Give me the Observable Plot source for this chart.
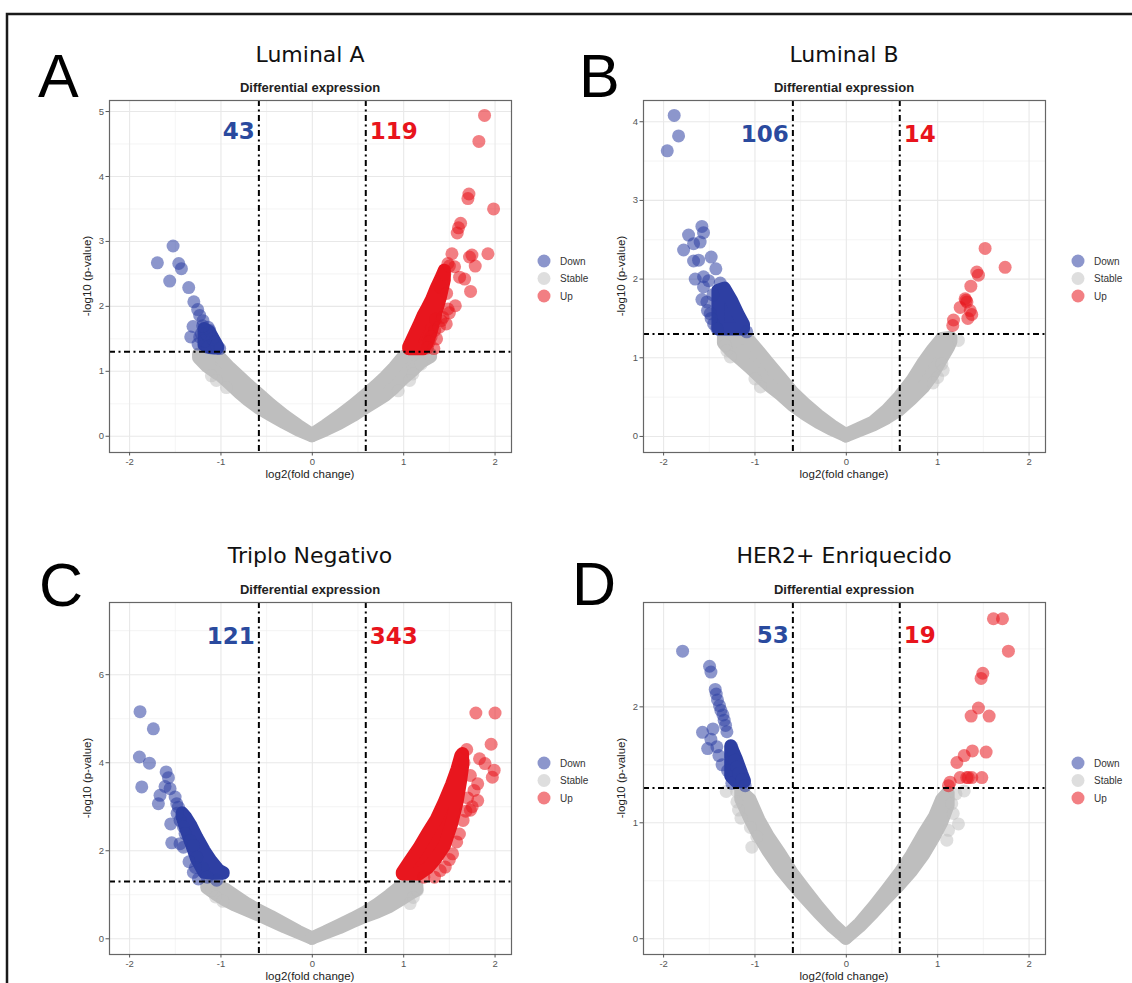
<!DOCTYPE html>
<html><head><meta charset="utf-8">
<script src="https://cdn.jsdelivr.net/npm/d3@7"></script>
<script src="https://cdn.jsdelivr.net/npm/@observablehq/plot@0.6"></script>
<style>
body{margin:0;background:#fff;}
#fig{position:relative;width:1132px;height:983px;overflow:hidden;background:#fff;}
#fig svg.pl{position:absolute;}
</style></head>
<body><div id="fig"></div>
<script>
// ---------- shared axis / threshold values ----------
const xMajor = [-2, -1, 0, 1, 2];
const xMinor = [-1.5, -0.5, 0.5, 1.5];
const fcCut = 0.585;      // log2(1.5)
const pCut = 1.301;       // -log10(0.05)
const legendLabels = ["Down", "Stable", "Up"];
const panelLetters = ["A", "B", "C", "D"];
const panelTitles = ["Luminal A", "Luminal B", "Triplo Negativo", "HER2+ Enriquecido"];
const downCounts = [43, 106, 121, 53];
const upCounts = [119, 14, 343, 19];
const countLabelY = [4.69, 3.84, 6.87, 2.61];
const yDomains = [[-0.25, 5.17], [-0.204, 4.27], [-0.357, 7.64], [-0.136, 2.9]];
const yMajors = [[0,1,2,3,4,5],[0,1,2,3,4],[0,2,4,6],[0,1,2]];
const yMinors = [[0.5,1.5,2.5,3.5,4.5],[0.5,1.5,2.5,3.5],[1,3,5,7],[0.5,1.5,2.5]];

// ---------- Panel A : Luminal A ----------
// dense stable band (dot-centre envelope): [log2FC, low, high]
const aStableLeft = [[-1.24,1.2,1.26],[-1.15,1.07,1.26],[-1.05,0.97,1.26],[-1.0,0.93,1.2],[-0.9,0.8,1.05],[-0.8,0.67,0.92],[-0.7,0.55,0.79],[-0.585,0.43,0.65],[-0.45,0.32,0.48],[-0.3,0.2,0.31],[-0.15,0.09,0.16],[0,0,0.02]];
const aStableRight = [[0,0,0.02],[0.15,0.09,0.16],[0.3,0.19,0.31],[0.45,0.31,0.47],[0.585,0.43,0.63],[0.7,0.53,0.77],[0.8,0.62,0.9],[0.9,0.74,1.05],[1.0,0.88,1.22],[1.1,1.0,1.26],[1.2,1.14,1.26],[1.3,1.22,1.26]];
const aStableOut = [[-1.105,0.93],[-1.05,0.86],[-0.94,0.75],[1.1,0.96],[1.19,1.11],[1.28,1.27],[1.065,0.86],[0.94,0.7]];
const aDownCore = [[-1.18,1.4,1.65],[-1.12,1.36,1.6],[-1.06,1.35,1.45],[-1.03,1.35,1.37]];
const aDown = [[-1.524,2.93],[-1.696,2.67],[-1.462,2.66],[-1.433,2.58],[-1.561,2.39],[-1.353,2.29],[-1.297,2.07],[-1.255,1.95],[-1.233,1.86],[-1.196,1.78],[-1.306,1.69],[-1.142,1.68],[-1.331,1.53],[-1.233,1.53],[-1.251,1.42],[-1.215,1.58],[-1.105,1.55],[-1.069,1.45],[-1.014,1.35],[-1.142,1.37],[-1.178,1.47],[-1.123,1.63],[-1.09,1.5],[-1.05,1.4],[-1.16,1.58],[-1.2,1.7]];
const aUpCore = [[1.06,1.34,1.37],[1.12,1.34,1.55],[1.17,1.34,1.7],[1.22,1.34,1.86],[1.26,1.42,1.96],[1.31,1.62,2.1],[1.36,1.9,2.27],[1.41,2.15,2.42],[1.45,2.4,2.55]];
const aUp = [[1.885,4.94],[1.823,4.54],[1.714,3.73],[1.703,3.66],[1.984,3.5],[1.623,3.28],[1.6,3.21],[1.586,3.13],[1.528,2.81],[1.747,2.79],[1.72,2.76],[1.922,2.81],[1.783,2.62],[1.484,2.66],[1.557,2.61],[1.612,2.45],[1.667,2.42],[1.732,2.23],[1.565,2.01],[1.484,1.96],[1.5,1.9],[1.41,1.78],[1.466,1.73],[1.34,1.63],[1.3,1.53],[1.45,2.5],[1.4,2.3],[1.35,1.8],[1.28,1.45],[1.33,1.35],[1.43,1.83],[1.39,1.68],[1.5,2.62],[1.47,2.2],[1.36,1.5],[1.26,1.36]];

// ---------- Panel B : Luminal B ----------
const bStableLeft = [[-1.34,1.18,1.26],[-1.25,1.07,1.26],[-1.15,0.97,1.26],[-1.06,0.88,1.22],[-0.95,0.76,1.07],[-0.85,0.65,0.93],[-0.72,0.53,0.75],[-0.585,0.39,0.56],[-0.45,0.28,0.41],[-0.3,0.17,0.26],[-0.15,0.08,0.13],[0,0,0.02]];
const bStableRight = [[0,0,0.02],[0.15,0.07,0.1],[0.3,0.14,0.18],[0.45,0.23,0.33],[0.585,0.33,0.5],[0.72,0.47,0.7],[0.85,0.62,0.94],[0.95,0.78,1.1],[1.05,0.98,1.24],[1.12,1.12,1.25],[1.15,1.2,1.25]];
const bStableOut = [[-1.307,1.09],[-1.27,1.01],[-1.0,0.73],[-0.94,0.63],[-1.325,1.16],[1.227,1.22],[1.045,0.92],[1.06,0.84],[1.0,0.75],[0.95,0.68]];
const bDownCore = [[-1.4,1.36,1.85],[-1.33,1.36,1.88],[-1.25,1.36,1.72],[-1.18,1.36,1.55],[-1.12,1.36,1.42]];
const bDown = [[-1.884,4.08],[-1.836,3.82],[-1.96,3.63],[-1.581,2.67],[-1.563,2.59],[-1.727,2.56],[-1.6,2.47],[-1.672,2.45],[-1.781,2.37],[-1.479,2.28],[-1.672,2.23],[-1.617,2.24],[-1.428,2.13],[-1.654,2.0],[-1.563,2.03],[-1.507,1.98],[-1.563,1.9],[-1.581,1.74],[-1.526,1.71],[-1.49,1.56],[-1.453,1.43],[-1.417,1.37],[-1.46,1.8],[-1.38,1.95],[-1.52,1.6],[-1.48,1.5],[-1.09,1.33]];
const bUpCore = [];
const bUp = [[1.519,2.39],[1.738,2.15],[1.428,2.09],[1.446,2.05],[1.363,1.91],[1.3,1.75],[1.32,1.71],[1.246,1.64],[1.356,1.6],[1.373,1.55],[1.33,1.5],[1.173,1.48],[1.165,1.41],[1.31,1.73]];

// ---------- Panel C : Triplo Negativo ----------
const cStableLeft = [[-1.15,1.15,1.2],[-1.05,1.0,1.2],[-0.95,0.87,1.12],[-0.85,0.76,0.98],[-0.72,0.65,0.8],[-0.585,0.53,0.64],[-0.45,0.4,0.5],[-0.3,0.26,0.33],[-0.15,0.13,0.16],[0,0,0.01]];
const cStableRight = [[0,0,0.01],[0.15,0.12,0.15],[0.3,0.24,0.3],[0.45,0.38,0.45],[0.585,0.5,0.6],[0.72,0.6,0.78],[0.85,0.72,0.98],[0.95,0.85,1.15],[1.05,0.98,1.2],[1.15,1.1,1.2]];
const cStableOut = [[-1.06,0.95],[-1.1,1.1],[-0.98,0.85],[1.105,0.94],[1.07,0.8],[1.15,1.1]];
const cDownCore = [[-1.42,2.75,2.85],[-1.38,2.5,2.75],[-1.32,2.15,2.55],[-1.26,1.8,2.3],[-1.18,1.5,2.0],[-1.1,1.48,1.75],[-1.02,1.48,1.55],[-0.97,1.48,1.49]];
const cDown = [[-1.886,5.16],[-1.74,4.77],[-1.893,4.13],[-1.783,3.99],[-1.867,3.45],[-1.6,3.79],[-1.575,3.66],[-1.612,3.46],[-1.557,3.41],[-1.667,3.26],[-1.685,3.07],[-1.502,3.22],[-1.484,3.07],[-1.466,2.99],[-1.55,2.61],[-1.448,2.69],[-1.411,2.54],[-1.393,2.39],[-1.539,2.18],[-1.448,2.16],[-1.411,2.08],[-1.338,2.23],[-1.302,2.12],[-1.266,1.85],[-1.302,1.51],[-1.247,1.36],[-1.047,1.33],[-1.2,1.6],[-1.15,1.4],[-1.48,2.85],[-1.35,1.75],[-1.28,1.62]];
const cUpCore = [[0.99,1.46,1.5],[1.07,1.46,1.75],[1.17,1.46,2.05],[1.27,1.6,2.4],[1.36,1.82,2.7],[1.45,2.1,3.1],[1.53,2.6,3.5],[1.59,3.1,3.85],[1.63,3.6,4.15],[1.65,3.9,4.2]];
const cUp = [[1.79,5.13],[2.0,5.13],[1.957,4.42],[1.83,4.09],[1.89,3.98],[1.99,3.83],[1.97,3.67],[1.73,3.71],[1.81,3.52],[1.77,3.37],[1.81,3.14],[1.73,2.92],[1.65,2.69],[1.61,2.38],[1.535,1.93],[1.455,1.63],[1.337,1.4],[1.7,3.2],[1.68,2.9],[1.58,2.2],[1.5,1.8],[1.4,1.55],[1.22,1.4],[1.69,4.3],[1.66,4.0],[1.75,3.0]];

// ---------- Panel D : HER2+ Enriquecido ----------
const dStableLeft = [[-1.15,1.2,1.27],[-1.05,1.03,1.2],[-0.95,0.88,1.02],[-0.85,0.75,0.88],[-0.72,0.6,0.73],[-0.585,0.47,0.56],[-0.45,0.35,0.42],[-0.3,0.22,0.27],[-0.15,0.1,0.13],[0,0,0.02]];
const dStableRight = [[0,0,0.02],[0.15,0.1,0.13],[0.3,0.22,0.27],[0.45,0.35,0.42],[0.585,0.46,0.56],[0.72,0.58,0.72],[0.85,0.72,0.9],[0.97,0.88,1.05],[1.05,1.0,1.2],[1.12,1.15,1.26]];
const dStableOut = [[-1.315,1.27],[-1.198,1.18],[-1.18,1.11],[-1.153,1.04],[-1.05,0.96],[-1.034,0.79],[-0.98,0.88],[-1.2,1.27],[1.29,1.275],[1.154,1.165],[1.17,1.08],[1.227,0.99],[1.118,0.935],[1.2,1.25],[1.1,0.85]];
const dDownCore = [[-1.26,1.4,1.66],[-1.2,1.35,1.55],[-1.14,1.35,1.42],[-1.11,1.35,1.36]];
const dDown = [[-1.792,2.48],[-1.497,2.35],[-1.482,2.3],[-1.435,2.15],[-1.424,2.11],[-1.41,2.06],[-1.388,2.01],[-1.373,1.97],[-1.35,1.93],[-1.337,1.885],[-1.322,1.84],[-1.307,1.785],[-1.574,1.78],[-1.46,1.81],[-1.482,1.72],[-1.518,1.64],[-1.417,1.655],[-1.395,1.58],[-1.36,1.5],[-1.3,1.45],[-1.253,1.34],[-1.253,1.655],[-1.235,1.6],[-1.216,1.54],[-1.198,1.48],[-1.18,1.425],[-1.143,1.37],[-1.107,1.32]];
const dUpCore = [];
const dUp = [[1.61,2.76],[1.709,2.76],[1.774,2.48],[1.494,2.29],[1.475,2.245],[1.446,1.99],[1.366,1.92],[1.563,1.92],[1.38,1.62],[1.53,1.61],[1.29,1.58],[1.21,1.52],[1.245,1.39],[1.318,1.39],[1.373,1.39],[1.483,1.39],[1.136,1.35],[1.118,1.32],[1.336,1.39]];

// ---------- styling ----------
const GREY = "#bebebe", BLUE = "#2e3fa3", RED = "#e8161e";
const BLUE_TXT = "#2a4a9e", RED_TXT = "#e8141c";
const legendColors = [BLUE, GREY, RED];
const legendOpac = [0.55, 0.5, 0.55];

const data = [
  {sl:aStableLeft, sr:aStableRight, so:aStableOut, dc:aDownCore, d:aDown, uc:aUpCore, u:aUp},
  {sl:bStableLeft, sr:bStableRight, so:bStableOut, dc:bDownCore, d:bDown, uc:bUpCore, u:bUp},
  {sl:cStableLeft, sr:cStableRight, so:cStableOut, dc:cDownCore, d:cDown, uc:cUpCore, u:cUp},
  {sl:dStableLeft, sr:dStableRight, so:dStableOut, dc:dDownCore, d:dDown, uc:dUpCore, u:dUp}
];
// frame placement (left, top) of each panel
const frames = [[109,100],[643,100],[109,602],[643,602]];
const FW = 402, FH = 352, ML = 40, MT = 8, MR = 10, MB = 40;

const pts = a => a.map(([x,y]) => ({x, y}));
const band = a => a.map(([x,lo,hi]) => ({x, lo, hi}));
const R = 6.5;

const fig = document.getElementById("fig");

data.forEach((p, i) => {
  const bandOpts = c => ({x:"x", y1:"lo", y2:"hi", fill:c, stroke:c, strokeWidth:2*R, strokeLinejoin:"round"});
  const marks = [
    Plot.gridX(xMinor, {stroke:"#efefef", strokeOpacity:1, strokeWidth:0.7}),
    Plot.gridY(yMinors[i], {stroke:"#efefef", strokeOpacity:1, strokeWidth:0.7}),
    Plot.gridX(xMajor, {stroke:"#e8e8e8", strokeOpacity:1, strokeWidth:1.1}),
    Plot.gridY(yMajors[i], {stroke:"#e8e8e8", strokeOpacity:1, strokeWidth:1.1}),
    Plot.areaY(band(p.sl), bandOpts(GREY)),
    Plot.areaY(band(p.sr), bandOpts(GREY)),
    Plot.dot(pts(p.so), {x:"x", y:"y", r:R, fill:GREY, fillOpacity:0.5}),
    Plot.areaY(band(p.dc), bandOpts(BLUE)),
    Plot.dot(pts(p.d), {x:"x", y:"y", r:R, fill:BLUE, fillOpacity:0.55}),
    Plot.areaY(band(p.uc), bandOpts(RED)),
    Plot.dot(pts(p.u), {x:"x", y:"y", r:R, fill:RED, fillOpacity:0.55}),
    Plot.ruleX([-fcCut, fcCut], {stroke:"#000", strokeWidth:2, strokeDasharray:"6,3.5,2,3.5"}),
    Plot.ruleY([pCut], {stroke:"#000", strokeWidth:2, strokeDasharray:"6,3.5,2,3.5"}),
    Plot.text([{x:-fcCut, y:countLabelY[i], t:String(downCounts[i])}], {x:"x", y:"y", text:"t", textAnchor:"end", dx:-4, fill:BLUE_TXT, fontSize:23, fontWeight:"bold", fontFamily:"DejaVu Sans"}),
    Plot.text([{x:fcCut, y:countLabelY[i], t:String(upCounts[i])}], {x:"x", y:"y", text:"t", textAnchor:"start", dx:4, fill:RED_TXT, fontSize:23, fontWeight:"bold", fontFamily:"DejaVu Sans"}),
    Plot.frame({stroke:"#666", strokeWidth:1.2}),
    Plot.axisX({ticks:xMajor, tickSize:3.5, tickPadding:2, fontSize:9.5, color:"#555", tickFormat:d => String(d), label:null}),
    Plot.axisY({ticks:yMajors[i], tickSize:3.5, tickPadding:2, fontSize:9.5, color:"#555", tickFormat:d => String(d), label:null})
  ];
  const svg = Plot.plot({
    width: ML + FW + MR, height: MT + FH + MB,
    marginLeft: ML, marginTop: MT, marginRight: MR, marginBottom: MB,
    x: {domain:[-2.22, 2.18], label:null},
    y: {domain: yDomains[i], label:null},
    style: {background:"transparent", fontFamily:"Liberation Sans, Arial, sans-serif"},
    marks
  });
  svg.classList.add("pl");
  svg.style.left = (frames[i][0] - ML) + "px";
  svg.style.top = (frames[i][1] - MT) + "px";
  fig.appendChild(svg);
});

// ---------- overlay: border, letters, titles, axis titles, legends ----------
const ov = d3.select(fig).append("svg")
  .attr("width", 1132).attr("height", 983)
  .style("position", "absolute").style("left", 0).style("top", 0)
  .style("pointer-events", "none");

ov.append("path").attr("d", "M7,983 L7,14 L1132,14").attr("fill", "none")
  .attr("stroke", "#1a1a1a").attr("stroke-width", 2.5);

const letterPos = [[38,97],[579,97],[39,606],[572,605]];
frames.forEach(([fl, ft], i) => {
  const cx = fl + FW / 2;
  const top = i < 2;
  ov.append("text").text(panelLetters[i])
    .attr("x", letterPos[i][0]).attr("y", letterPos[i][1])
    .attr("font-family", "Liberation Sans, Arial").attr("font-size", 61).attr("fill", "#000");
  ov.append("text").text(panelTitles[i])
    .attr("x", cx).attr("y", top ? 62 : 563).attr("text-anchor", "middle")
    .attr("font-family", "DejaVu Sans").attr("font-size", 22).attr("fill", "#111");
  ov.append("text").text("Differential expression")
    .attr("x", cx).attr("y", ft - 8.5).attr("text-anchor", "middle")
    .attr("font-family", "Liberation Sans, Arial").attr("font-weight", "bold")
    .attr("font-size", 13).attr("fill", "#222");
  ov.append("text").text("log2(fold change)")
    .attr("x", cx).attr("y", ft + FH + 26).attr("text-anchor", "middle")
    .attr("font-family", "Liberation Sans, Arial").attr("font-size", 11.5).attr("fill", "#222");
  ov.append("text").text("-log10 (p-value)")
    .attr("transform", `translate(${fl - 18},${ft + FH / 2}) rotate(-90)`)
    .attr("text-anchor", "middle")
    .attr("font-family", "Liberation Sans, Arial").attr("font-size", 11.5).attr("fill", "#222");
  legendLabels.forEach((lab, k) => {
    const ly = ft + 161 + k * 17.5;
    ov.append("circle").attr("cx", fl + FW + 33).attr("cy", ly).attr("r", R)
      .attr("fill", legendColors[k]).attr("fill-opacity", legendOpac[k]);
    ov.append("text").text(lab).attr("x", fl + FW + 49).attr("y", ly + 3.5)
      .attr("font-family", "Liberation Sans, Arial").attr("font-size", 10).attr("fill", "#333");
  });
});
</script>
</body></html>
